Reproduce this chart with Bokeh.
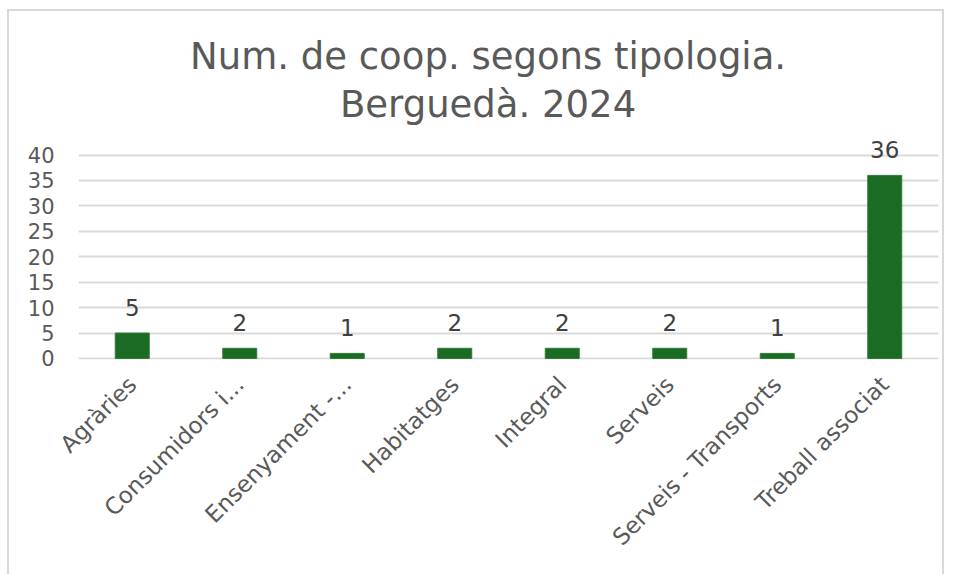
from bokeh.plotting import figure
from bokeh.models import ColumnDataSource, Range1d, FactorRange, FixedTicker, LabelSet, Label
from bokeh.core.properties import value
from bokeh.embed import file_html
from bokeh.resources import INLINE
import math

categories = ["Agràries", "Consumidors i...", "Ensenyament -...", "Habitatges",
              "Integral", "Serveis", "Serveis - Transports", "Treball associat"]
values = [5, 2, 1, 2, 2, 2, 1, 36]
y_ticks = [0, 5, 10, 15, 20, 25, 30, 35, 40]
title_lines = ["Num. de coop. segons tipologia.", "Berguedà. 2024"]

src = ColumnDataSource(dict(cat=categories, val=values, lbl=[str(v) for v in values]))

p = figure(x_range=FactorRange(*categories, range_padding=0),
           y_range=Range1d(-0.2, 66.45),
           width=937, height=565, output_backend="svg", toolbar_location=None,
           min_border_left=69, min_border_right=8, min_border_top=9, min_border_bottom=217)

p.styles = {"margin-left": "7px", "margin-top": "9px",
            "border-left": "2px solid #d9d9d9", "border-top": "2px solid #d9d9d9",
            "border-right": "2px solid #d9d9d9"}

# title lines (inside the plotting frame, above the 40 gridline)
for txt, yv in zip(title_lines, [59.4, 50.0]):
    p.add_layout(Label(x=3.81, y=yv, text=txt, text_align="center", text_baseline="alphabetic",
                       text_font="DejaVu Sans", text_font_size="37px", text_color="#595959"))

p.vbar(x="cat", top="val", width=0.316, source=src, fill_color="#1B6B24", line_color="#2f7a37", line_width=1)

labels = LabelSet(x="cat", y="val", text="lbl", source=src, text_align="center",
                  text_baseline="alphabetic", y_offset=17, text_font_size="23px",
                  text_color="#404040", text_font=value("DejaVu Sans"))
p.add_layout(labels)

p.outline_line_color = None
p.xgrid.grid_line_color = None
p.ygrid.grid_line_color = "#d9d9d9"
p.ygrid.grid_line_width = 2
p.yaxis.ticker = FixedTicker(ticks=y_ticks)
for ax in (p.xaxis, p.yaxis):
    ax.axis_line_color = None
    ax.major_tick_line_color = None
    ax.minor_tick_line_color = None
    ax.major_tick_out = 0
    ax.major_tick_in = 0
    ax.minor_tick_out = 0
    ax.minor_tick_in = 0
    ax.major_label_text_color = "#595959"
    ax.major_label_text_font = "DejaVu Sans"
p.yaxis.major_label_text_font_size = "21px"
p.xaxis.major_label_text_font_size = "23px"
p.yaxis.major_label_standoff = 24
p.xaxis.major_label_orientation = math.pi / 4
p.xaxis.major_label_standoff = 21

open("out.html", "w").write(file_html(p, INLINE))
